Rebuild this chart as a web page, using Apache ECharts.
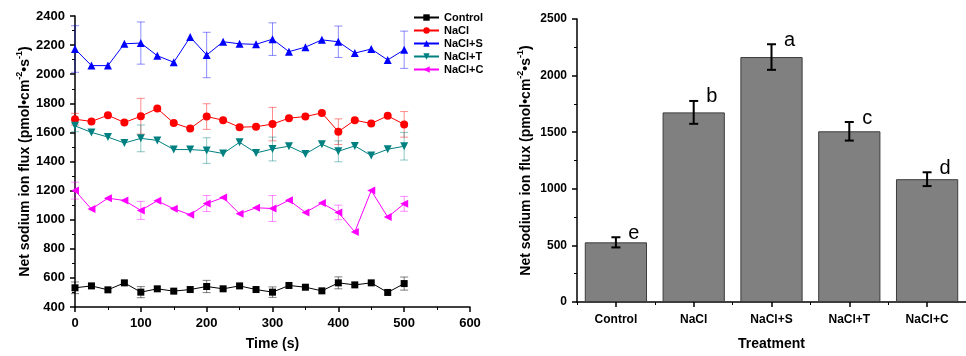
<!DOCTYPE html>
<html>
<head>
<meta charset="utf-8">
<script src="https://cdn.jsdelivr.net/npm/echarts@6/dist/echarts.min.js"></script>
<style>
  html, body { margin: 0; padding: 0; background: #fff; }
  #chart { width: 966px; height: 356px; }
</style>
</head>
<body>
<div id="chart"></div>
<script>
const FONT = 'Arial, "Liberation Sans", sans-serif';

// left panel: time course, one point every 25 s
const times = [0, 25, 50, 75, 100, 125, 150, 175, 200, 225, 250, 275, 300, 325, 350, 375, 400, 425, 450, 475, 500];
const control = [532, 545, 518, 566, 502, 525, 509, 520, 541, 525, 545, 520, 502, 548, 536, 511, 566, 552, 566, 500, 561];
const nacl = [1691, 1675, 1718, 1668, 1711, 1764, 1664, 1627, 1709, 1684, 1636, 1639, 1657, 1698, 1709, 1734, 1605, 1684, 1661, 1714, 1655];
const naclS = [2173, 2059, 2059, 2209, 2214, 2127, 2082, 2255, 2132, 2223, 2209, 2205, 2241, 2155, 2186, 2236, 2223, 2145, 2173, 2098, 2168];
const naclT = [1645, 1600, 1568, 1527, 1559, 1545, 1482, 1482, 1475, 1455, 1532, 1459, 1486, 1505, 1452, 1518, 1470, 1507, 1441, 1484, 1505];
const naclC = [1200, 1073, 1148, 1132, 1064, 1130, 1075, 1034, 1111, 1152, 1041, 1082, 1077, 1134, 1050, 1114, 1050, 916, 1200, 1018, 1109];

// error bars only every 100 s
const errTimes = [0, 100, 200, 300, 400, 500];
const controlErr = [40, 38, 42, 36, 41, 45];
const naclErr = [40, 123, 88, 115, 88, 88];
const naclSErr = [160, 145, 156, 112, 108, 128];
const naclTErr = [40, 92, 88, 82, 72, 95];
const naclCErr = [58, 62, 55, 89, 50, 51];

// right panel: means
const treatments = ['Control', 'NaCl', 'NaCl+S', 'NaCl+T', 'NaCl+C'];
const meanFlux = [527, 1675, 2164, 1508, 1085];
const meanErr = [45, 101, 113, 82, 61];
const letters = ['e', 'b', 'a', 'c', 'd'];

const lines = [
  { name: 'Control', values: control, err: controlErr, color: '#000000', errColor: 'rgba(0,0,0,0.5)', symbol: 'rect', rotate: 0, size: 7 },
  { name: 'NaCl', values: nacl, err: naclErr, color: '#ff0000', errColor: 'rgba(255,0,0,0.45)', symbol: 'circle', rotate: 0, size: 8 },
  { name: 'NaCl+S', values: naclS, err: naclSErr, color: '#0000ff', errColor: 'rgba(0,0,255,0.45)', symbol: 'triangle', rotate: 0, size: 8 },
  { name: 'NaCl+T', values: naclT, err: naclTErr, color: '#008080', errColor: 'rgba(0,128,128,0.45)', symbol: 'triangle', rotate: 180, size: 8 },
  { name: 'NaCl+C', values: naclC, err: naclCErr, color: '#ff00ff', errColor: 'rgba(255,0,255,0.45)', symbol: 'triangle', rotate: 90, size: 8 }
];

// draws a vertical error bar with caps (and an optional letter above it)
function errorBar(color, capWidth, lineWidth, labels) {
  return function (params, api) {
    const x = api.value(0);
    const v = api.value(1);
    const e = api.value(2);
    const top = api.coord([x, v + e]);
    const bot = api.coord([x, v - e]);
    const h = capWidth / 2;
    const style = { stroke: color, lineWidth: lineWidth };
    const children = [
      { type: 'line', shape: { x1: top[0], y1: top[1], x2: bot[0], y2: bot[1] }, style: style },
      { type: 'line', shape: { x1: top[0] - h, y1: top[1], x2: top[0] + h, y2: top[1] }, style: style },
      { type: 'line', shape: { x1: bot[0] - h, y1: bot[1], x2: bot[0] + h, y2: bot[1] }, style: style }
    ];
    if (labels) {
      children.push({
        type: 'text',
        x: top[0] + 18,
        y: top[1] + 6,
        style: {
          text: labels[params.dataIndex], fill: '#000', fontSize: 20,
          fontFamily: FONT, align: 'center', verticalAlign: 'bottom'
        }
      });
    }
    return { type: 'group', children: children };
  };
}

const plain = function (v) { return String(v); };
const axisLabelStyle = { color: '#000', fontSize: 13, fontWeight: 'bold', fontFamily: FONT, formatter: plain };
const axisNameStyle = { color: '#000', fontSize: 14, fontWeight: 'bold', fontFamily: FONT };
const yNameStyle = {
  color: '#000', fontFamily: FONT,
  rich: {
    m: { fontSize: 14, fontWeight: 'bold', fontFamily: FONT, lineHeight: 20, color: '#000' },
    s: { fontSize: 9, fontWeight: 'bold', fontFamily: FONT, lineHeight: 10, verticalAlign: 'top', color: '#000' }
  }
};
const yName = '{m|Net sodium ion flux (pmol•cm}{s|-2}{m|•s}{s|-1}{m|)}';
const axisLine = { show: true, lineStyle: { color: '#000', width: 1.5 } };
const majorTick = { show: true, inside: false, length: 5, lineStyle: { color: '#000', width: 1.5 } };
const minorTick = { show: true, splitNumber: 2, length: 3, lineStyle: { color: '#000', width: 1 } };

const series = [];
lines.forEach(function (l) {
  series.push({
    name: l.name + ' err',
    type: 'custom',
    xAxisIndex: 0, yAxisIndex: 0,
    z: 2,
    renderItem: errorBar(l.errColor, 8, 1, null),
    encode: { x: 0, y: 1 },
    data: errTimes.map(function (t, i) { return [t, l.values[times.indexOf(t)], l.err[i]]; })
  });
});
lines.forEach(function (l) {
  series.push({
    name: l.name,
    type: 'line',
    xAxisIndex: 0, yAxisIndex: 0,
    z: 3,
    symbol: l.symbol,
    symbolRotate: l.rotate,
    symbolSize: l.size,
    itemStyle: { color: l.color },
    lineStyle: { color: l.color, width: 1 },
    data: times.map(function (t, i) { return [t, l.values[i]]; })
  });
});
series.push({
  name: 'mean',
  type: 'bar',
  xAxisIndex: 1, yAxisIndex: 1,
  barWidth: '80%',
  itemStyle: { color: '#808080', borderColor: '#3c3c3c', borderWidth: 1 },
  data: meanFlux
});
series.push({
  name: 'mean err',
  type: 'custom',
  xAxisIndex: 1, yAxisIndex: 1,
  z: 4,
  renderItem: errorBar('#000', 9, 2, letters),
  encode: { x: 0, y: 1 },
  data: meanFlux.map(function (v, i) { return [i, v, meanErr[i]]; })
});

const chart = echarts.init(document.getElementById('chart'));
chart.setOption({
  animation: false,
  backgroundColor: '#fff',
  legend: {
    data: lines.map(function (l) { return l.name; }),
    orient: 'vertical',
    left: 413, top: 11,
    padding: 0,
    itemWidth: 25, itemHeight: 8, itemGap: 0,
    textStyle: { color: '#000', fontSize: 11, fontWeight: 'bold', fontFamily: FONT, lineHeight: 13 }
  },
  grid: [
    { left: 75, top: 16, width: 395, height: 294 },
    { left: 577, top: 19, width: 395, height: 288 }
  ],
  xAxis: [
    {
      gridIndex: 0, type: 'value', min: 0, max: 600, interval: 100,
      axisLine: axisLine, axisTick: majorTick, minorTick: minorTick,
      splitLine: { show: false },
      axisLabel: Object.assign({ margin: 10 }, axisLabelStyle),
      name: 'Time (s)', nameLocation: 'middle', nameGap: 30, nameTextStyle: axisNameStyle
    },
    {
      gridIndex: 1, type: 'category', data: treatments,
      axisLine: axisLine,
      axisTick: Object.assign({ alignWithLabel: true }, majorTick),
      splitLine: { show: false },
      axisLabel: Object.assign({ margin: 12 }, axisLabelStyle, { fontSize: 12, formatter: null }),
      name: 'Treatment', nameLocation: 'middle', nameGap: 35, nameTextStyle: axisNameStyle
    },
    {
      // short ticks between the treatments
      gridIndex: 1, type: 'category', data: treatments, position: 'bottom',
      axisLine: { show: false },
      axisTick: { show: true, inside: false, length: 3, lineStyle: { color: '#000', width: 1 } },
      axisLabel: { show: false },
      splitLine: { show: false }
    }
  ],
  yAxis: [
    {
      gridIndex: 0, type: 'value', min: 400, max: 2400, interval: 200,
      axisLine: axisLine, axisTick: majorTick, minorTick: minorTick,
      splitLine: { show: false },
      axisLabel: Object.assign({ margin: 10 }, axisLabelStyle),
      name: yName, nameLocation: 'middle', nameGap: 40, nameTextStyle: yNameStyle
    },
    {
      gridIndex: 1, type: 'value', min: 0, max: 2500, interval: 500,
      axisLine: axisLine, axisTick: majorTick, minorTick: minorTick,
      splitLine: { show: false },
      axisLabel: Object.assign({ margin: 10 }, axisLabelStyle, { fontSize: 12 }),
      name: yName, nameLocation: 'middle', nameGap: 41, nameTextStyle: yNameStyle
    }
  ],
  series: series
});
</script>
</body>
</html>
